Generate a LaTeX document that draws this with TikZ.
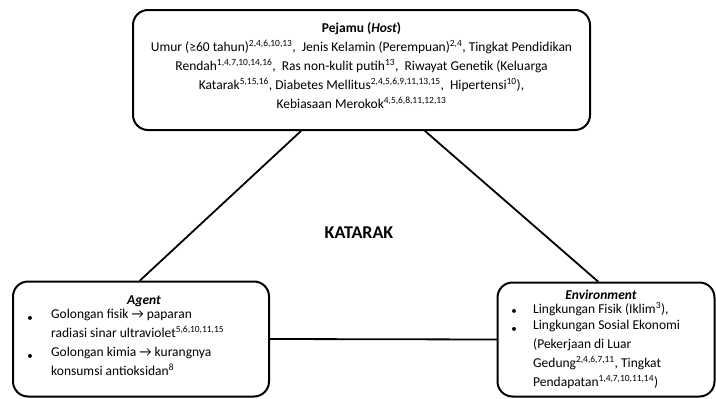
\documentclass[tikz,border=0pt]{standalone}
\usepackage{fontspec}
\setmainfont{Carlito}
\usetikzlibrary{calc}
\tikzset{
  box/.style={draw, line width=2pt, rounded corners=15pt, inner sep=0pt},
  link/.style={line width=1.8pt},
  body/.style={inner sep=0pt, font=\fontsize{13.5}{19}\selectfont},
  head/.style={inner sep=0pt, font=\fontsize{13.5}{19}\selectfont\bfseries},
  dot/.style={inner sep=0pt, font=\fontsize{11}{12}\selectfont}
}
\newcommand{\sups}[1]{\textsuperscript{#1}}

\begin{document}
\begin{tikzpicture}[x=1pt, y=-1pt, line cap=round, line join=round]

  \useasboundingbox (0,0) rectangle (716,399);

  % the three boxes
  \node[box, minimum width=457, minimum height=120] (host) at (361.5,70) {};
  \node[box, minimum width=256, minimum height=115] (agent) at (141,339) {};
  \node[box, minimum width=217, minimum height=114] (env) at (606,339.5) {};

  % connectors
  \draw[link] ([xshift=-60.5pt]host.south) -- ([xshift=-1pt]agent.north);
  \draw[link] ([xshift=63.5pt]host.south) -- ([xshift=-8pt]env.north);
  \draw[link] (agent.east) -- (env.west);

  % host text
  \node[head] (hosttitle) at (361.5,29) {Pejamu (\textit{Host})};
  \node[body, align=center, anchor=north] (hosttext) at (361.5,40)
    {Umur (≥60 tahun)\sups{2,4,6,10,13},\ \ Jenis Kelamin (Perempuan)\sups{2,4}, Tingkat Pendidikan\\
     Rendah\sups{1,4,7,10,14,16},\ \ Ras non-kulit putih\sups{13},\ \ Riwayat Genetik (Keluarga\\
     Katarak\sups{5,15,16}, Diabetes Mellitus\sups{2,4,5,6,9,11,13,15},\ \ Hipertensi\sups{10}),\\
     Kebiasaan Merokok\sups{4,5,6,8,11,12,13}};

  \node[font=\fontsize{18}{20}\selectfont\bfseries] (katarak) at (359,233) {KATARAK};

  % agent text
  \node[head] (agenttitle) at (144,301) {\itshape Agent};
  \node[dot] (adot1) at (30,319) {•};
  \node[body, align=left, anchor=north west] (aitem1) at (51,309)
    {Golongan fisik → paparan\\ radiasi sinar ultraviolet\sups{5,6,10,11,15}};
  \node[dot] (adot2) at (30,357) {•};
  \node[body, align=left, anchor=north west] (aitem2) at (51,347)
    {Golongan kimia → kurangnya\\ konsumsi antioksidan\sups{8}};

  % environment text
  \node[head] (envtitle) at (601,295) {\itshape Environment};
  \node[dot] (edot1) at (514,312) {•};
  \node[body, align=left, anchor=north west] (eitem1) at (533,302)
    {Lingkungan Fisik (Iklim\sups{3}),};
  \node[dot] (edot2) at (514,330) {•};
  \node[body, align=left, anchor=north west] (eitem2) at (533,320)
    {Lingkungan Sosial Ekonomi\\ (Pekerjaan di Luar\\ Gedung\sups{2,4,6,7,11}, Tingkat\\ Pendapatan\sups{1,4,7,10,11,14})};

\end{tikzpicture}
\end{document}
